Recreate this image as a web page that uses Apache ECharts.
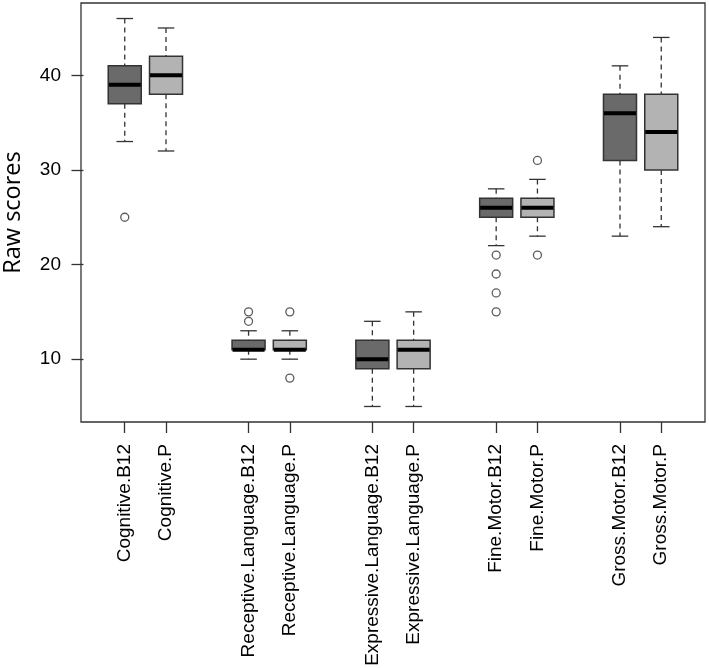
<!DOCTYPE html>
<html>
<head>
<meta charset="utf-8">
<script src="https://cdn.jsdelivr.net/npm/echarts@6/dist/echarts.min.js"></script>
<style>
html,body{margin:0;padding:0;background:#fff;}
#chart{width:709px;height:668px;}
</style>
</head>
<body>
<div id="chart"></div>
<script>
const categories = ['Cognitive.B12','Cognitive.P','Receptive.Language.B12','Receptive.Language.P','Expressive.Language.B12','Expressive.Language.P','Fine.Motor.B12','Fine.Motor.P','Gross.Motor.B12','Gross.Motor.P'];
const positions = [1,2,4,5,7,8,10,11,13,14];
const whiskerLow = [33,32,10,10,5,5,22,23,23,24];
const q1 = [37,38,11,11,9,9,25,25,31,30];
const median = [39,40,11,11,10,11,26,26,36,34];
const q3 = [41,42,12,12,12,12,27,27,38,38];
const whiskerHigh = [46,45,13,13,14,15,28,29,41,44];
const outliers = [[25],[],[14,15],[15,8],[],[],[21,19,17,15],[31,21],[],[]];
const yTicks = [10,20,30,40];

const fillDark = '#6a6a6a', fillLight = '#b3b3b3';
const lineCol = '#333333';

const boxData = positions.map((p,i)=>[p, whiskerLow[i], q1[i], median[i], q3[i], whiskerHigh[i], i]);
const outlierData = [];
outliers.forEach((arr,i)=>arr.forEach(v=>outlierData.push([positions[i], v])));

function renderBox(params, api){
  const x = api.value(0);
  const idx = api.value(6);
  const w = api.size([0.8,0])[0];
  const half = w/2;
  const cap = w/4;
  const pLow = api.coord([x, api.value(1)]);
  const pQ1 = api.coord([x, api.value(2)]);
  const pMed = api.coord([x, api.value(3)]);
  const pQ3 = api.coord([x, api.value(4)]);
  const pHigh = api.coord([x, api.value(5)]);
  const cx = pMed[0];
  const dashStyle = {stroke: lineCol, lineWidth: 1.3, lineDash: [5,4]};
  const solid = {stroke: lineCol, lineWidth: 1.3};
  return {
    type: 'group',
    children: [
      {type:'line', shape:{x1:cx,y1:pHigh[1],x2:cx,y2:pQ3[1]}, style:dashStyle},
      {type:'line', shape:{x1:cx,y1:pQ1[1],x2:cx,y2:pLow[1]}, style:dashStyle},
      {type:'line', shape:{x1:cx-cap,y1:pHigh[1],x2:cx+cap,y2:pHigh[1]}, style:solid},
      {type:'line', shape:{x1:cx-cap,y1:pLow[1],x2:cx+cap,y2:pLow[1]}, style:solid},
      {type:'rect', shape:{x:cx-half,y:pQ3[1],width:w,height:pQ1[1]-pQ3[1]},
        style:{fill: idx%2===0 ? fillDark : fillLight, stroke: lineCol, lineWidth: 1.5}},
      {type:'line', shape:{x1:cx-half+0.5,y1:pMed[1],x2:cx+half-0.5,y2:pMed[1]}, style:{stroke:'#000', lineWidth:4}}
    ]
  };
}

const chart = echarts.init(document.getElementById('chart'), null, {renderer:'canvas'});
chart.setOption({
  animation: false,
  backgroundColor: '#fff',
  grid: {left: 81, right: 4, top: 3, bottom: 246, outerBoundsMode: 'none', containLabel: false, show: true, borderColor: '#333', borderWidth: 1.3, backgroundColor: 'transparent'},
  xAxis: {
    type: 'value', min: -0.06, max: 15.06,
    splitLine: {show:false},
    axisLine: {show:false},
    axisTick: {show:true, customValues: positions, length: 11, inside:false, lineStyle:{color:'#333', width:1.3}},
    axisLabel: {show:true, customValues: positions, rotate: 90, margin: 22, fontFamily: 'Liberation Sans, Arial, sans-serif', fontSize: 19, color: '#000', hideOverlap: false,
      formatter: function(v){ const i = positions.indexOf(Math.round(v)); return i>=0 ? categories[i] : ''; }}
  },
  yAxis: {
    type: 'value', min: 3.36, max: 47.64,
    name: 'Raw scores', nameLocation: 'middle', nameRotate: 90, nameGap: 56, nameMoveOverlap: false,
    nameTextStyle: {fontFamily: 'Open Sans, sans-serif', fontSize: 23.5, color: '#000'},
    splitLine: {show:false},
    axisLine: {show:false},
    axisTick: {show:true, customValues: yTicks, length: 12, lineStyle:{color:'#333', width:1.3}},
    axisLabel: {show:true, customValues: yTicks, margin: 20, fontFamily: 'Liberation Sans, Arial, sans-serif', fontSize: 19, color: '#000'}
  },
  series: [
    {type:'custom', renderItem: renderBox, data: boxData, encode:{x:0, y:[1,5]}, clip:false},
    {type:'scatter', data: outlierData, symbol:'circle', symbolSize: 8,
      itemStyle:{color:'#fff', borderColor:'#333', borderWidth:1.3}, z: 5}
  ]
});
</script>
</body>
</html>
